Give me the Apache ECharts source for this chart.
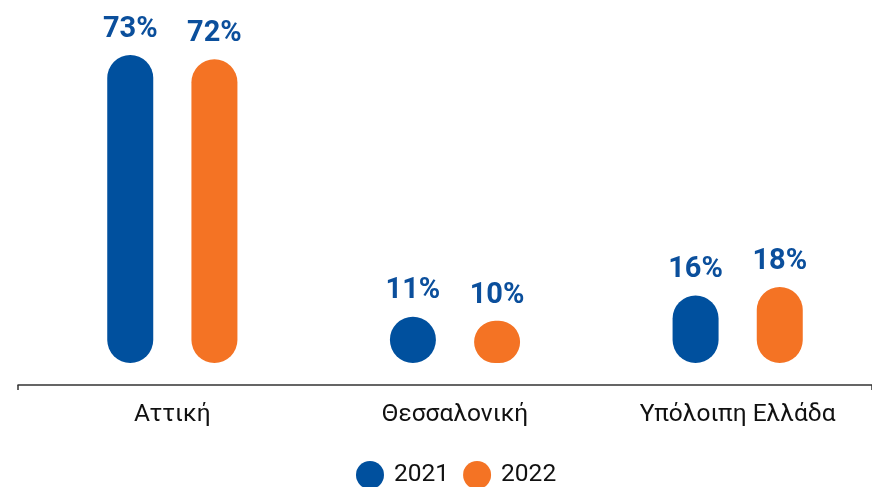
<!DOCTYPE html>
<html>
<head>
<meta charset="utf-8">
<script src="https://cdn.jsdelivr.net/npm/echarts@6/dist/echarts.min.js"></script>
<style>html,body{margin:0;padding:0;background:#fff}#c{width:872px;height:487px}</style>
</head>
<body>
<div id="c"></div>
<script>
var categories = ['Αττική', 'Θεσσαλονική', 'Υπόλοιπη Ελλάδα'];
var seriesNames = ['2021', '2022'];
var values2021 = [73, 11, 16];
var values2022 = [72, 10, 18];

var BLUE = '#00509e';
var ORANGE = '#f47324';
var chart = echarts.init(document.getElementById('c'));
var labelCfg = {
  show: true, position: 'top', distance: 11,
  formatter: '{c}%', color: '#0b4f9c', fontFamily: 'Roboto',
  fontWeight: 'bold', fontSize: 29
};
chart.setOption({
  animation: false,
  textStyle: { fontFamily: 'Roboto' },
  legend: {
    data: seriesNames, bottom: -7, left: 351,
    icon: 'circle', itemWidth: 28, itemHeight: 28, itemGap: 14,
    textStyle: { fontSize: 24.5, color: '#111', fontFamily: 'Roboto', padding: [0, 0, 0, 5] }
  },
  grid: [
    { left: 31, right: -7, top: 25.5, bottom: 102, outerBoundsMode: 'none' },
    { left: 18, right: 0, top: 25.5, bottom: 102, outerBoundsMode: 'none' }
  ],
  xAxis: [
    {
      type: 'category', data: categories, gridIndex: 0,
      axisLine: { show: false }, axisTick: { show: false },
      axisLabel: { color: '#111', fontSize: 24.5, margin: 17, fontFamily: 'Roboto' }
    },
    {
      type: 'category', data: [''], gridIndex: 1,
      axisLine: { show: true, lineStyle: { color: '#333', width: 1.5 } },
      axisTick: { show: true, length: 5, lineStyle: { color: '#333', width: 1.5 } },
      axisLabel: { show: false }
    }
  ],
  yAxis: [
    { type: 'value', gridIndex: 0, min: -5.2, max: 80, show: false, splitLine: { show: false } },
    { type: 'value', gridIndex: 1, show: false, splitLine: { show: false } }
  ],
  series: [
    {
      name: seriesNames[0], type: 'bar', data: values2021, barWidth: 46, barGap: '83%',
      itemStyle: { color: BLUE, borderRadius: 23 }, label: labelCfg
    },
    {
      name: seriesNames[1], type: 'bar', data: values2022, barWidth: 46, barGap: '83%',
      itemStyle: { color: ORANGE, borderRadius: 23 }, label: labelCfg
    }
  ]
});
</script>
</body>
</html>
